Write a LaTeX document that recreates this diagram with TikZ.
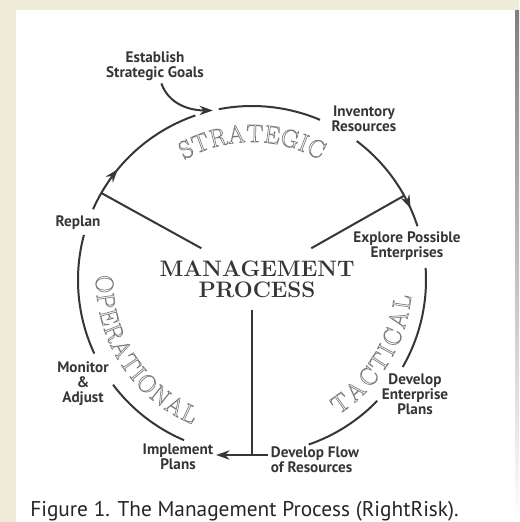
\documentclass[tikz,border=0pt]{standalone}
\usepackage{fontspec}
\usetikzlibrary{arrows.meta,calc,decorations.markings}

\newfontfamily\labelfont{PT Sans}
\newfontfamily\capfont{PT Sans}
\definecolor{paper}{HTML}{EFEBD7}
\definecolor{shade}{HTML}{BDBDB2}
\definecolor{ink}{HTML}{363636}
\definecolor{ghost}{HTML}{7C7C7C}
% outlined letters: stroke the glyphs instead of filling them
\newcommand{\hollow}[1]{\special{pdf:literal direct 1 Tr 0.5 w}#1\special{pdf:literal direct 0 Tr}}
\newcommand{\ringr}{174}

\begin{document}
\begin{tikzpicture}[x=0.75pt,y=0.75pt,>={Stealth[length=10pt,width=7pt]},
  stagelabel/.style={font=\labelfont\bfseries\fontsize{11.4}{11.25}\selectfont,text=ink,align=center,inner sep=2pt},
  flowline/.style={draw=ink,line width=1.5pt},
  phase/.style={anchor=base,inner sep=0pt,text=ghost,font=\fontsize{18.75}{18.75}\selectfont},
  midarrow/.style={postaction={decorate},decoration={markings,mark=at position #1 with {\arrow{>}}}}]

  % page and panel
  \useasboundingbox (0,0) rectangle (519,-522);
  \fill[paper] (0,0) rectangle (519,-522);
  \fill[shade] (515,-10) rectangle (519,-522);
  \fill[white] (16,-10) rectangle (515,-522);

  \coordinate (c) at (252,-280);

  % centre
  \node[font=\bfseries\fontsize{16.8}{15.75}\selectfont,text=ink,align=center,inner xsep=2pt,inner ysep=9pt] (mgmt) at (257,-279) {MANAGEMENT\\PROCESS};

  % steps round the ring
  \node[stagelabel] (goals) at (155,-66) {Establish\\Strategic Goals};
  \node[stagelabel] (inventory) at (364,-119) {Inventory\\Resources};
  \node[stagelabel] (replan) at (78,-223) {Replan};
  \node[stagelabel] (explore) at (407,-246) {Explore Possible\\Enterprises};
  \node[stagelabel] (devplans) at (415,-394) {Develop\\Enterprise\\Plans};
  \node[stagelabel,align=left] (flow) at (315,-460) {Develop Flow\\of Resources};
  \node[stagelabel] (implement) at (178,-457) {Implement\\Plans};
  \node[stagelabel] (monitor) at (83,-384) {Monitor\\\&\\Adjust};

  \coordinate (est) at ($(c)+(103:\ringr)$);
  \coordinate (ul) at ($(c)+(150:\ringr)$);
  \coordinate (ur) at ($(c)+(29:\ringr)$);
  \coordinate (tj) at (252,-455);

  % ring
  \foreach \a/\b in {101/67,4/-30,-44/-71,247/217,205/165}
    \draw[flowline] ($(c)+(\a:\ringr)$) arc[start angle=\a,end angle=\b,radius=\ringr];
  \draw[flowline,midarrow=0.33] ($(c)+(156:\ringr)$) arc[start angle=156,end angle=109,radius=\ringr];
  \draw[flowline,midarrow=0.82] ($(c)+(53:\ringr)$) arc[start angle=53,end angle=18,radius=\ringr];

  \draw[flowline,->] (goals) to[out=-70,in=180] (est);
  \draw[flowline] (mgmt) -- (ul);
  \draw[flowline] (mgmt) -- (ur);
  \draw[flowline] (mgmt.south -| tj) -- (tj);
  \draw[flowline,->] (flow.west |- tj) -- (implement.east |- tj);

  % phase names
  \foreach \ch/\ang in {S/116.8,T/110.6,R/103.4,A/96.2,T/88.9,E/82.1,G/74.9,I/69.3,C/63.9}
    \node[phase,rotate=\ang-90] at ($(c)+(\ang:138)$) {\hollow{\ch}};
  \foreach \ch/\ang in {T/-54.3,A/-47.1,C/-39.7,T/-32.8,I/-27.5,C/-22.2,A/-15.0,L/-8.3}
    \node[phase,rotate=\ang+90] at ($(c)+(\ang:160)$) {\hollow{\ch}};
  \foreach \ch/\ang in {O/181.6,P/188.2,E/194.5,R/201.0,A/207.8,T/214.5,I/219.5,O/224.7,N/231.7,A/238.6,L/245.0}
    \node[phase,rotate=\ang+90] at ($(c)+(\ang:156)$) {\hollow{\ch}};

  \node[anchor=base west,inner sep=0pt,font=\capfont\fontsize{16}{16}\selectfont,text=black!85] (caption) at (30,-516) {Figure 1. The Management Process (RightRisk).};
\end{tikzpicture}
\end{document}
